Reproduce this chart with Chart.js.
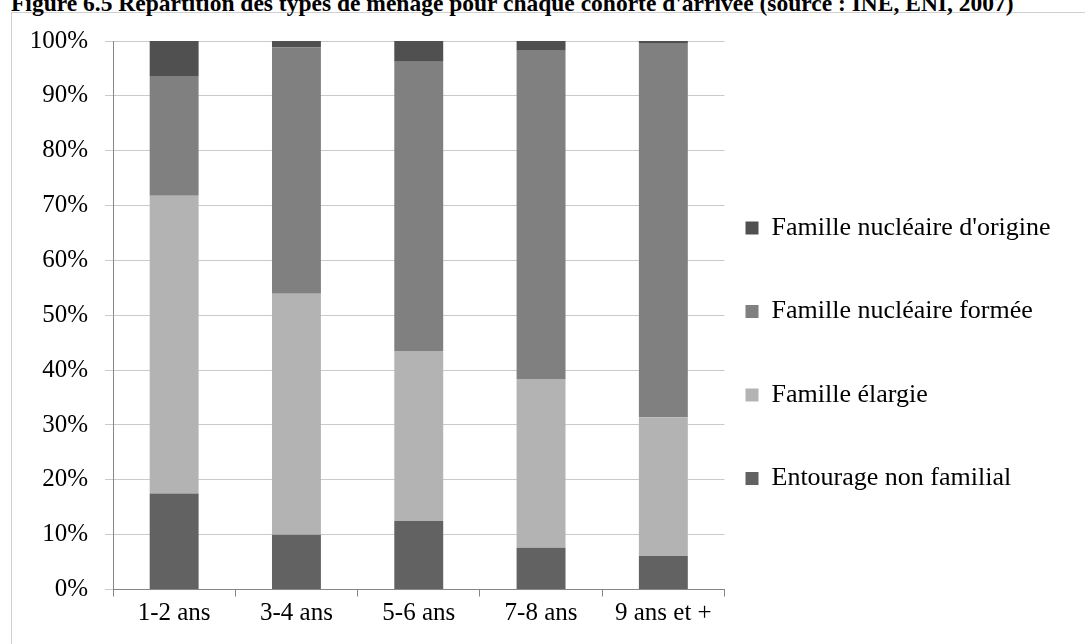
<!DOCTYPE html>
<html>
<head>
<meta charset="utf-8">
<script src="https://cdn.jsdelivr.net/npm/chart.js@4.4.1/dist/chart.umd.min.js"></script>
<style>
  html, body { margin: 0; padding: 0; background: #ffffff; overflow: hidden; }
  body { width: 1085px; height: 644px; position: relative; }
  #title { position: absolute; left: 11px; top: -8.5px; font-family: "Liberation Serif", "Times New Roman", serif; font-weight: bold; font-size: 23.5px; line-height: 23.5px; white-space: nowrap; color: #000; }
  #frame { position: absolute; left: 11px; top: 12px; width: 1100px; height: 700px; border: 1.5px solid #d0d0d0; background: #fff; }
  #wrap { position: absolute; left: 13px; top: 14px; width: 1072px; height: 630px; }
</style>
</head>
<body>
<div id="frame"></div>
<div id="title">Figure 6.5 Répartition des types de ménage pour chaque cohorte d'arrivée (source : INE, ENI, 2007)</div>
<div id="wrap"><canvas id="c" width="1072" height="630"></canvas></div>
<script>
// ---- data ----
const categories = ["1-2 ans", "3-4 ans", "5-6 ans", "7-8 ans", "9 ans et +"];
const entourageNonFamilial = [17.5, 10.0, 12.5, 7.6, 6.1];
const familleElargie       = [54.3, 43.9, 31.0, 30.8, 25.3];
const familleNucleaireFormee = [21.8, 44.9, 52.7, 59.8, 68.1];
const familleNucleaireOrigine = [6.4, 1.2, 3.8, 1.8, 0.5];
const yTicks = [0, 10, 20, 30, 40, 50, 60, 70, 80, 90, 100];

const FONT = "'Liberation Serif', 'Times New Roman', serif";
const LEG_FONT = 26;
const LEG_PAD = 57.5;

const legendShift = {
  id: 'legendShift',
  afterUpdate(chart) {
    const l = chart.legend;
    if (!l) return;
    const dx = -36.5;
    l.left += dx;
    l.right = chart.width;
    const start = (l.top + LEG_PAD + l.bottom - 4 * (LEG_FONT + LEG_PAD)) / 2;
    const dy = 201 - start;
    l.top += dy; l.bottom += dy;
  }
};

new Chart(document.getElementById('c'), {
  type: 'bar',
  data: {
    labels: categories,
    datasets: [
      { label: "Entourage non familial", data: entourageNonFamilial, backgroundColor: '#626262' },
      { label: "Famille élargie", data: familleElargie, backgroundColor: '#b3b3b3' },
      { label: "Famille nucléaire formée", data: familleNucleaireFormee, backgroundColor: '#808080' },
      { label: "Famille nucléaire d'origine", data: familleNucleaireOrigine, backgroundColor: '#505050' }
    ]
  },
  options: {
    responsive: false,
    animation: false,
    devicePixelRatio: 1,
    layout: { padding: { top: 27, left: 0, right: 0, bottom: 0 } },
    datasets: { bar: { barPercentage: 0.4, categoryPercentage: 1.0, borderWidth: 0 } },
    plugins: {
      title: { display: false },
      tooltip: { enabled: false },
      legend: {
        position: 'right',
        reverse: true,
        maxWidth: 360.5,
        labels: {
          boxWidth: 13, boxHeight: 13, padding: LEG_PAD,
          color: '#000',
          font: { family: FONT, size: LEG_FONT }
        }
      }
    },
    scales: {
      x: {
        stacked: true,
        afterFit(scale) { scale.height = 54.5; },
        grid: { display: true, offset: true, drawOnChartArea: false, drawTicks: true, tickLength: 7, color: '#868686', lineWidth: 1 },
        border: { display: true, color: '#868686', width: 1 },
        ticks: { color: '#000', font: { family: FONT, size: 25 }, padding: 2, maxRotation: 0, autoSkip: false }
      },
      y: {
        stacked: true,
        min: 0, max: 100,
        afterFit(scale) { scale.width = 100; scale.paddingTop = 0; scale.paddingBottom = 0; },
        afterBuildTicks(scale) { scale.ticks = yTicks.map(v => ({ value: v })); },
        grid: {
          color: (ctx) => ctx.tick && ctx.tick.value === 0 ? '#868686' : '#cacaca',
          tickColor: '#cacaca',
          tickLength: 8, lineWidth: 1
        },
        border: { display: true, color: '#868686', width: 1 },
        ticks: { color: '#000', font: { family: FONT, size: 25 }, padding: 17, callback: (v) => v + '%' }
      }
    }
  },
  plugins: [legendShift]
});
</script>
</body>
</html>
